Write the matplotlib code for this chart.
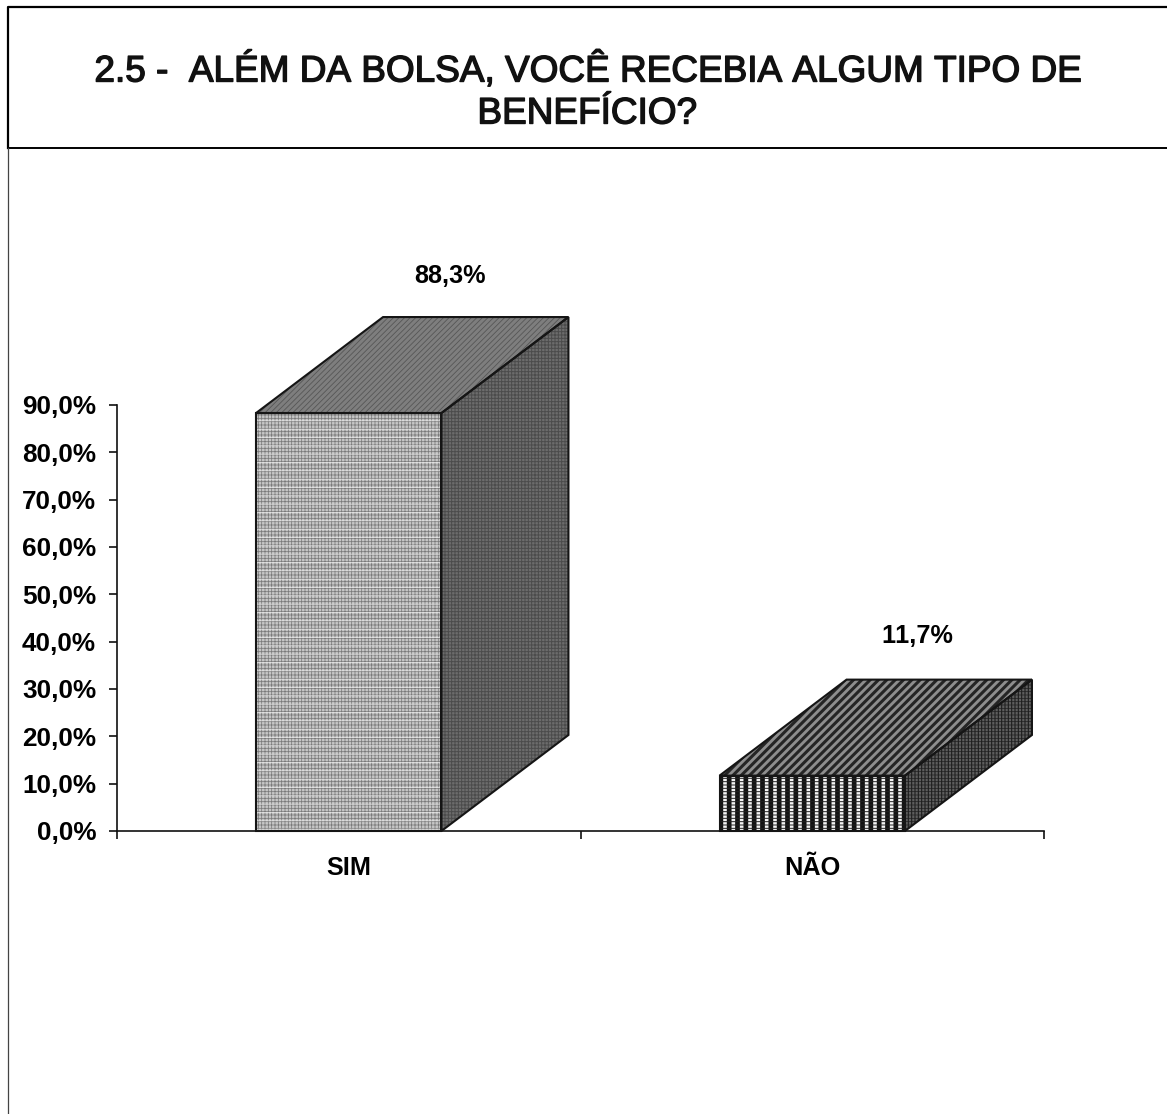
import matplotlib
matplotlib.use("Agg")
import matplotlib.pyplot as plt
import matplotlib.patheffects as pe
from matplotlib.patches import Polygon
from matplotlib.lines import Line2D

plt.rcParams['font.family'] = ['Liberation Sans', 'DejaVu Sans']
plt.rcParams['text.kerning_factor'] = 6

categorias = ["SIM", "NÃO"]
valores = [88.3, 11.7]
rotulos = ["88,3%", "11,7%"]
ticks_y = [0, 10, 20, 30, 40, 50, 60, 70, 80, 90]
titulo = ["2.5 -  ALÉM DA BOLSA, VOCÊ RECEBIA ALGUM TIPO DE", "BENEFÍCIO?"]

W, H = 1167, 1114
LARGURA = 0.4
PROF_X = 127 / 463.5          # profundidade 3D em unidades de categoria
PROF_Y = 96 / (426 / 90)      # profundidade 3D em pontos percentuais

# ajuste dos rotulos de valor (x em categorias, y em %)
rot_dx = [0.218, 0.227]
rot_dy = [8.7, 9.3]

# (cor da face, cor da textura, hatch, espessura)
estilos = [
    {"frente": [("#c6c6c6", "#7a7a7a", "+++++", 0.55), ("none", "#f2f2f2", "--", 0.45)],
     "topo": [("#7e7e7e", "#565656", "//////", 0.6)],
     "lado": [("#6c6c6c", "#4c4c4c", "+++++", 0.7)]},
    {"frente": [("#f4f4f4", "#111111", "||", 3.4), ("none", "#222222", "-----", 0.7)],
     "topo": [("#8e8e8e", "#252525", "////", 2.2)],
     "lado": [("#5e5e5e", "#1e1e1e", "|||||", 0.8), ("none", "#1e1e1e", "-----", 0.5)]},
]


def faces(ax, verts, camadas):
    for cor, cor_hatch, hatch, lw in camadas:
        plt.rcParams['hatch.linewidth'] = lw
        ax.add_patch(Polygon(verts, closed=True, facecolor=cor, edgecolor=cor_hatch,
                             hatch=hatch, linewidth=0, clip_on=False, zorder=3))
    ax.add_patch(Polygon(verts, closed=True, facecolor="none", edgecolor="#151515",
                         linewidth=1.5, clip_on=False, zorder=4, joinstyle="miter"))


fig = plt.figure(figsize=(W / 100, H / 100), dpi=100, facecolor="white")

# moldura do slide
fig.add_artist(Line2D([8 / W, 8 / W, 1], [1 - 148 / H, 1 - 7 / H, 1 - 7 / H], color="black", lw=1.6))
fig.add_artist(Line2D([8 / W, 1], [1 - 148 / H, 1 - 148 / H], color="black", lw=1.4))
fig.add_artist(Line2D([8 / W, 8 / W], [0, 1 - 148 / H], color="#444444", lw=0.9))

contorno = [pe.withStroke(linewidth=1.0, foreground="#111111")]
for linha, y in zip(titulo, [71, 114]):
    fig.text(587 / W, 1 - y / H, linha, ha="center", va="center", fontsize=26.6,
             color="#111111", path_effects=contorno)

ax = fig.add_axes([117 / W, 1 - 831 / H, (1044 - 117) / W, (831 - 405) / H])
ax.set_xlim(0, 2)
ax.set_ylim(0, 90)
ax.patch.set_alpha(0)

for spine in ["top", "right"]:
    ax.spines[spine].set_visible(False)
for spine in ["left", "bottom"]:
    ax.spines[spine].set_color("#111111")
    ax.spines[spine].set_linewidth(1.2)

ax.set_yticks(ticks_y)
ax.set_yticklabels([f"{t},0%" for t in ticks_y], fontsize=18.8, fontweight="bold")
ax.set_xticks([0, 1, 2])
ax.set_xticklabels([])
ax.tick_params(axis="both", length=5.5, width=1.2, color="#111111", pad=9.5)

for i, (cat, v, rot) in enumerate(zip(categorias, valores, rotulos)):
    x0 = i + 0.5 - LARGURA / 2
    x1 = i + 0.5 + LARGURA / 2
    est = estilos[i]
    faces(ax, [(x0, 0), (x1, 0), (x1, v), (x0, v)], est["frente"])
    faces(ax, [(x0, v), (x1, v), (x1 + PROF_X, v + PROF_Y), (x0 + PROF_X, v + PROF_Y)], est["topo"])
    faces(ax, [(x1, 0), (x1 + PROF_X, PROF_Y), (x1 + PROF_X, v + PROF_Y), (x1, v)], est["lado"])
    ax.text(i + 0.5 + rot_dx[i], v + PROF_Y + rot_dy[i], rot, ha="center", va="center",
            fontsize=18.2, fontweight="bold", clip_on=False)
    ax.text(i + 0.5, -7.8, cat, ha="center", va="center", fontsize=18.2, fontweight="bold")

fig.savefig("out.png", dpi=100)
plt.close(fig)
